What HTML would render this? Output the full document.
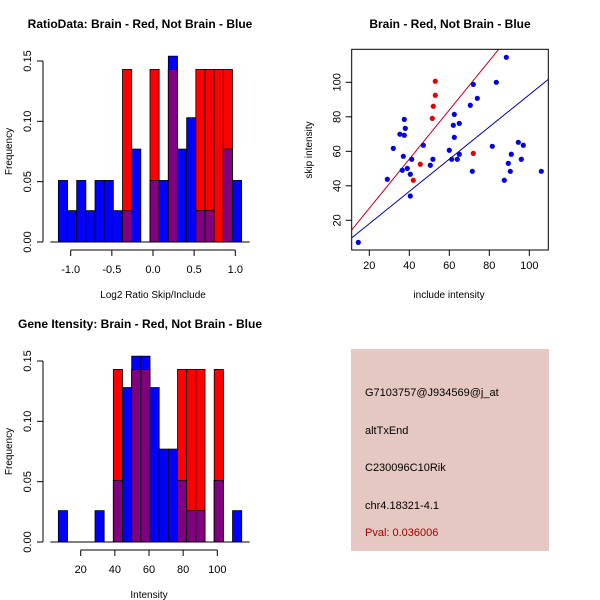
<!DOCTYPE html>
<html><head><meta charset="utf-8"><style>
html,body{margin:0;padding:0;background:#fff;}
svg{display:block;font-family:"Liberation Sans",sans-serif;}
</style></head><body>
<svg id="chart" width="600" height="600" viewBox="0 0 600 600" xmlns="http://www.w3.org/2000/svg">
<rect width="600" height="600" fill="#fff"/>
<g id="tl"></g>
<g id="tr"></g>
<g id="bl"></g>
<g>
<rect x="351" y="349" width="198" height="202" fill="#e5c8c1"/>
<text x="365" y="396" font-size="11" fill="#000">G7103757@J934569@j_at</text>
<text x="365" y="434" font-size="11" fill="#000">altTxEnd</text>
<text x="365" y="471" font-size="11" fill="#000">C230096C10Rik</text>
<text x="365" y="509" font-size="11" fill="#000">chr4.18321-4.1</text>
<text x="365" y="536" font-size="11" fill="#a00000">Pval: 0.036006</text>
</g>
</svg>
<script>
const ratioBlue = [0.051,0.026,0.051,0.026,0.051,0.051,0.026,0.026,0.077,0,0.051,0.051,0.154,0.077,0.103,0.026,0.026,0,0.077,0.051];
const ratioRed  = [0,0,0,0,0,0,0,0.143,0,0,0.143,0,0.143,0,0,0.143,0.143,0.143,0.143,0];
const ratioStart = -1.15, ratioWidth = 0.11135;
const ratioTicks = ["-1.0","-0.5","0.0","0.5","1.0"];
const intBlue = [0.026,0,0,0,0.026,0,0.051,0.128,0.154,0.154,0.128,0.077,0.077,0.051,0.026,0.026,0,0.051,0,0.026];
const intRed  = [0,0,0,0,0,0,0.143,0,0.143,0.143,0,0,0,0.143,0.143,0.143,0,0.143,0,0];
const intStart = 6.9, intWidth = 5.37;
const intTicks = ["20","40","60","80","100"];
const freqTicks = ["0.00","0.05","0.10","0.15"];
const blueX = [14.5,29,32,35.3,37.5,38,37.5,37,36.5,39,41.2,47,40.5,40.5,51.8,50.5,60,61.2,62.5,62,62.5,65,64,65,71.5,70.5,72,74,83.5,88.5,81.5,87.5,89.5,90.5,91,94.5,97,96,106];
const blueY = [7.2,43.8,61.7,69.9,78.5,73.3,69.3,57.1,49,50.1,55.4,63.5,46.7,34.1,55.4,51.9,60.6,55.4,81.4,75.1,68.1,76.2,55.4,58.3,48.4,86.7,98.8,90.7,100,114.5,62.9,43.2,53,48.4,58.3,65.2,63.5,55.4,48.4];
const redX = [53,53,52,51.5,45.5,42,72];
const redY = [100.6,92.5,86.1,79.1,52.5,43.2,58.8];
const redFit = [-1.56,1.425];
const blueFit = [-0.67,0.935];
const scatXTicks = ["20","40","60","80","100"];
const scatYTicks = ["20","40","60","80","100"];

const NS="http://www.w3.org/2000/svg";
function mk(parent,tag,attrs,txt){const e=document.createElementNS(NS,tag);for(const k in attrs)e.setAttribute(k,attrs[k]);if(txt!==undefined)e.textContent=txt;parent.appendChild(e);return e;}

function hist(g,title,xlabel,blue,red,start,width,ticks,x0px,x1px,v0,v1,y0px,xAxisY){
  const sx=v=>x0px+(v-v0)*(x1px-x0px)/(v1-v0);
  const sy=v=>y0px-v*1206.7;
  let t=mk(g,'text',{x:140,y:y0px-214,'font-size':12,'font-weight':'bold','text-anchor':'middle'},title);
  
  
  for(let i=0;i<blue.length;i++){
    const a=sx(start+i*width),b=sx(start+(i+1)*width);
    const hb=blue[i],hr=red[i],lo=Math.min(hb,hr);
    if(hb>0){const r=mk(g,'rect',{x:a,y:sy(hb),width:b-a,height:sy(0)-sy(hb),fill:'#0000ff',stroke:'#000','stroke-width':0.8});
      
      }
    if(hr>0){const r=mk(g,'rect',{x:a,y:sy(hr),width:b-a,height:sy(0)-sy(hr),fill:'#ff0000',stroke:'#000','stroke-width':0.8});
      
      }
    if(lo>0){const r=mk(g,'rect',{x:a,y:sy(lo),width:b-a,height:sy(0)-sy(lo),fill:'#800080',stroke:'#000','stroke-width':0.8});
      
      }
  }
  const xs=sx(start),xe=sx(start+blue.length*width);
  mk(g,'line',{x1:xs-8,x2:xe+8,y1:sy(0),y2:sy(0),stroke:'#000'});
  // y axis
  const ax=43;
  mk(g,'line',{x1:ax,x2:ax,y1:sy(0),y2:sy(0.15),stroke:'#000'});
  freqTicks.forEach(s=>{const v=parseFloat(s);mk(g,'line',{x1:ax-6,x2:ax,y1:sy(v),y2:sy(v),stroke:'#000'});
    const tt=mk(g,'text',{x:ax-12,y:sy(v),'font-size':11,'text-anchor':'middle',transform:`rotate(-90 ${ax-12} ${sy(v)})`},s);
    
    });
  const yl=mk(g,'text',{x:12,y:sy(0.075),'font-size':10,'text-anchor':'middle',transform:`rotate(-90 12 ${sy(0.075)})`},'Frequency');
  
  
  const tv=ticks.map(parseFloat);
  mk(g,'line',{x1:sx(tv[0]),x2:sx(tv[tv.length-1]),y1:xAxisY,y2:xAxisY,stroke:'#000'});
  ticks.forEach((s,i)=>{mk(g,'line',{x1:sx(tv[i]),x2:sx(tv[i]),y1:xAxisY,y2:xAxisY+6,stroke:'#000'});
    const tt=mk(g,'text',{x:sx(tv[i]),y:xAxisY+23,'font-size':11,'text-anchor':'middle'},s);
    
    });
  const xl=mk(g,'text',{x:(x0px+x1px)/2,y:xAxisY+48,'font-size':10,'text-anchor':'middle'},xlabel);
  
  
}
hist(document.getElementById('tl'),'RatioData: Brain - Red, Not Brain - Blue','Log2 Ratio Skip/Include',ratioBlue,ratioRed,ratioStart,ratioWidth,ratioTicks,70.7,235.3,-1,1,242,250);
hist(document.getElementById('bl'),'Gene Itensity: Brain - Red, Not Brain - Blue','Intensity',intBlue,intRed,intStart,intWidth,intTicks,80.7,217.3,20,100,542,550);

// scatter
(function(){
  const g=document.getElementById('tr');
  const sx=v=>369.3+(v-20)*2, sy=v=>220.3-(v-20)*1.725;
  const L=351.7,R=548.3,T=49.3,B=250;
  const t=mk(g,'text',{x:450,y:28,'font-size':12,'font-weight':'bold','text-anchor':'middle'},'Brain - Red, Not Brain - Blue');
  
  
  const cp=mk(g,'clipPath',{id:'sc'});mk(cp,'rect',{x:L,y:T,width:R-L,height:B-T});
  const xmin=11.2,xmax=109.5;
  [[redFit,'#c00020','fit-line-red'],[blueFit,'#0000a0','fit-line-blue']].forEach(([f,c,n])=>{
    const l=mk(g,'line',{x1:sx(xmin),y1:sy(f[0]+f[1]*xmin),x2:sx(xmax),y2:sy(f[0]+f[1]*xmax),stroke:c,'stroke-width':1,'clip-path':'url(#sc)'});
    
    });
  blueX.forEach((x,i)=>{const c=mk(g,'circle',{cx:sx(x),cy:sy(blueY[i]),r:2.6,fill:'#0000e0'});
    
    });
  redX.forEach((x,i)=>{const c=mk(g,'circle',{cx:sx(x),cy:sy(redY[i]),r:2.6,fill:'#e00000'});
    
    });
  const fr=mk(g,'rect',{x:L,y:T,width:R-L,height:B-T,fill:'none',stroke:'#000'});
  
  
  scatXTicks.forEach(s=>{const v=parseFloat(s);mk(g,'line',{x1:sx(v),x2:sx(v),y1:B,y2:B+6,stroke:'#000'});
    const tt=mk(g,'text',{x:sx(v),y:B+19,'font-size':11,'text-anchor':'middle'},s);
    
    });
  scatYTicks.forEach(s=>{const v=parseFloat(s);mk(g,'line',{x1:L-6,x2:L,y1:sy(v),y2:sy(v),stroke:'#000'});
    const tt=mk(g,'text',{x:L-11,y:sy(v),'font-size':11,'text-anchor':'middle',transform:`rotate(-90 ${L-11} ${sy(v)})`},s);
    
    });
  const xl=mk(g,'text',{x:449,y:298,'font-size':10,'text-anchor':'middle'},'include intensity');
  
  
  const yl=mk(g,'text',{x:312,y:150,'font-size':10,'text-anchor':'middle',transform:'rotate(-90 312 150)'},'skip intensity');
  
  
})();
</script>
</body></html>
